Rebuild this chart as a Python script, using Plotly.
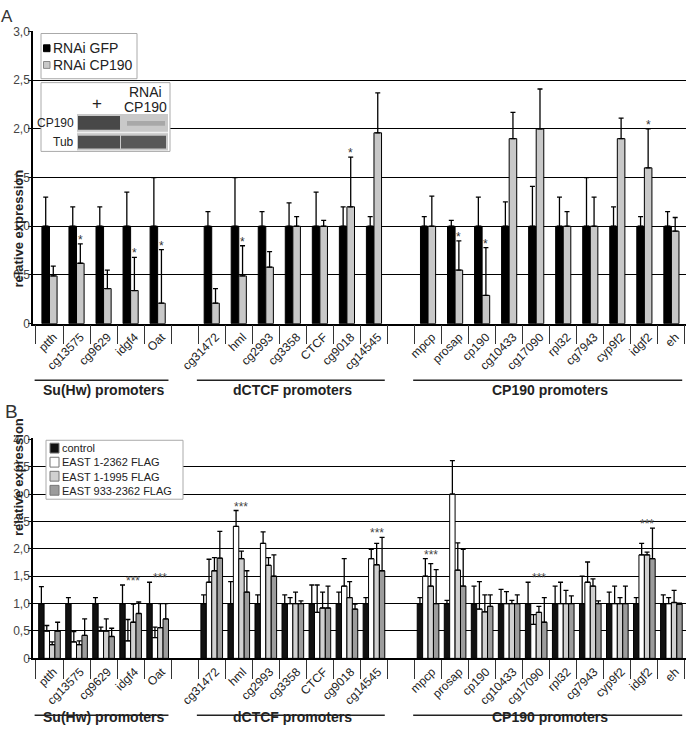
import plotly.graph_objects as go

W, H = 690, 743
FONT = "Arial, Liberation Sans, sans-serif"

# ---------------- data ----------------
group_names = ["Su(Hw) promoters", "dCTCF promoters", "CP190 promoters"]
group_sizes = [5, 7, 10]
genes = ["ptth", "cg13575", "cg9629", "idgf4", "Oat",
         "cg31472", "hml", "cg2993", "cg3358", "CTCF", "cg9018", "cg14545",
         "mpcp", "prosap", "cp190", "cg10433", "cg17090", "rpl32", "cg7943",
         "cyp9f2", "idgf2", "eh"]

# Panel A : RNAi
gfp_mean = [1.0] * 22
gfp_err = [0.30, 0.20, 0.20, 0.35, 0.50,
           0.15, 0.50, 0.15, 0.24, 0.35, 0.20, 0.10,
           0.10, 0.06, 0.30, 0.25, 0.41, 0.30, 0.50, 0.20, 0.10, 0.15]
cp190_mean = [0.49, 0.62, 0.36, 0.34, 0.21,
              0.21, 0.49, 0.58, 1.00, 1.00, 1.20, 1.96,
              1.00, 0.55, 0.29, 1.90, 2.00, 1.00, 1.00, 1.90, 1.60, 0.95]
cp190_err = [0.10, 0.20, 0.19, 0.34, 0.55,
             0.15, 0.31, 0.16, 0.10, 0.06, 0.51, 0.41,
             0.31, 0.30, 0.49, 0.27, 0.41, 0.15, 0.30, 0.21, 0.40, 0.14]
stars_A = ["cg13575", "idgf4", "Oat", "hml", "cg9018", "prosap", "cp190", "idgf2"]

# Panel B : EAST overexpression
control_mean = [1.0] * 22
control_err = [0.31, 0.11, 0.11, 0.34, 0.39,
               0.16, 0.40, 0.16, 0.16, 0.34, 0.21, 0.11,
               0.11, 0.06, 0.32, 0.26, 0.39, 0.32, 0.50, 0.21, 0.11, 0.16]
east_full_mean = [0.50, 0.30, 0.50, 0.32, 0.38,
                  1.39, 2.41, 2.10, 1.00, 0.84, 1.32, 1.82,
                  1.50, 3.00, 0.90, 1.00, 0.62, 1.00, 1.39, 1.00, 1.89, 1.00]
east_full_err = [0.10, 0.19, 0.07, 0.39, 0.19,
                 0.42, 0.29, 0.21, 0.11, 0.50, 0.50, 0.17,
                 0.32, 0.61, 0.50, 0.22, 0.18, 0.39, 0.37, 0.32, 0.21, 0.11]
east_1995_mean = [0.25, 0.25, 0.50, 0.66, 0.56,
                  1.60, 1.82, 1.70, 1.00, 0.92, 1.11, 1.71,
                  1.32, 1.61, 0.85, 1.00, 0.84, 1.00, 1.32, 1.00, 1.89, 1.02]
east_1995_err = [0.05, 0.07, 0.22, 0.33, 0.44,
                 0.24, 0.14, 0.14, 0.21, 0.29, 0.29, 0.39,
                 0.41, 0.50, 0.31, 0.06, 0.11, 0.24, 0.13, 0.11, 0.05, 0.22]
east_933_mean = [0.50, 0.42, 0.40, 0.82, 0.72,
                 1.83, 1.21, 1.50, 1.00, 0.92, 0.90, 1.60,
                 1.00, 1.32, 0.95, 1.00, 0.66, 1.00, 1.00, 1.00, 1.82, 0.99]
east_933_err = [0.16, 0.30, 0.15, 0.21, 0.28,
                0.49, 0.39, 0.39, 0.05, 0.40, 0.09, 0.61,
                0.62, 0.67, 0.21, 0.16, 0.45, 0.14, 0.05, 0.32, 0.56, 0.02]
stars_B = ["idgf4", "Oat", "hml", "cg14545", "mpcp", "cg17090", "idgf2"]

series_B = ["control", "EAST 1-2362 FLAG", "EAST 1-1995 FLAG", "EAST 933-2362 FLAG"]
colors_B = ["#111111", "#ffffff", "#d0d0d0", "#9c9c9c"]

ticks_A = [0, 0.5, 1.0, 1.5, 2.0, 2.5, 3.0]
ticks_B = [0, 0.5, 1.0, 1.5, 2.0, 2.5, 3.0, 3.5, 4.0]

# ---------------- layout helpers ----------------
def fx(p):
    return p / W

def fy(p):
    return 1 - p / H

def lab(v):
    return "0" if v == 0 else ("%.1f" % v).replace(".", ",")

# slot index of each gene (an empty slot between the groups)
slots, group_span = [], []
s = 0
for n in group_sizes:
    group_span.append((s, s + n - 1))
    for _ in range(n):
        slots.append(s)
        s += 1
    s += 1
n_slots = s - 1
bounds = [i - 0.5 for i in range(n_slots + 1)]
XR = [-0.61, n_slots - 0.46]
XDOM = [fx(33), fx(686)]

fig = go.Figure()

def add_bar(name, xs, ys, err, color, off, wid, xa, ya, lc="black"):
    fig.add_trace(go.Bar(
        name=name, x=xs, y=ys, offset=off, width=wid, xaxis=xa, yaxis=ya,
        showlegend=False,
        marker=dict(color=color, line=dict(color=lc, width=1)),
        error_y=dict(type="data", array=err, arrayminus=[0] * len(err),
                     symmetric=False, color="black", thickness=1.3, width=2.5)))

wa = 0.28
add_bar("RNAi GFP", slots, gfp_mean, gfp_err, "#000000", -wa, wa, "x", "y")
add_bar("RNAi CP190", slots, cp190_mean, cp190_err, "#c8c8c8", 0, wa, "x", "y")

wb = 0.2
means_B = [control_mean, east_full_mean, east_1995_mean, east_933_mean]
errs_B = [control_err, east_full_err, east_1995_err, east_933_err]
for k in range(4):
    add_bar(series_B[k], slots, means_B[k], errs_B[k], colors_B[k], (k - 2) * wb, wb, "x2", "y2")

def xaxis_cfg():
    return dict(domain=XDOM, range=XR, tickvals=[v + 0.15 for v in slots], ticktext=genes,
                tickangle=-45, ticks="", showgrid=False, zeroline=False,
                showline=True, linecolor="black", linewidth=1.5,
                tickfont=dict(size=12, color="#222", family=FONT),
                minor=dict(tickvals=bounds, ticks="outside", ticklen=19,
                           tickcolor="#333", tickwidth=1, showgrid=False))

def yaxis_cfg(dom, rng, tv):
    return dict(domain=dom, range=rng, tickvals=tv, ticktext=[lab(v) for v in tv],
                showgrid=True, gridcolor="#000", gridwidth=1.4, zeroline=False,
                showline=True, linecolor="black", linewidth=1.5,
                ticks="outside", ticklen=3, tickcolor="black", ticklabelstandoff=-4,
                tickfont=dict(size=12, color="#444", family=FONT))

fig.update_layout(
    width=W, height=H, margin=dict(l=0, r=0, t=0, b=0),
    paper_bgcolor="white", plot_bgcolor="white", barmode="overlay",
    font=dict(family=FONT, color="#222"),
    xaxis=dict(anchor="y", **xaxis_cfg()),
    yaxis=dict(anchor="x", **yaxis_cfg([fy(323.3), fy(25.0)], [0, 3.01], ticks_A)),
    xaxis2=dict(anchor="y2", **xaxis_cfg()),
    yaxis2=dict(anchor="x2", **yaxis_cfg([fy(664), fy(440.2)], [0, 4.015], ticks_B)),
)

shapes, ann = [], []

# significance stars
for g in stars_A:
    i = genes.index(g)
    ann.append(dict(x=slots[i] + wa / 2, y=cp190_mean[i] + cp190_err[i], xref="x", yref="y",
                    text="*", showarrow=False, yanchor="bottom", yshift=-5,
                    font=dict(size=12, color="#333")))
for g in stars_B:
    i = genes.index(g)
    top = max(m[i] + e[i] for m, e in zip(means_B, errs_B))
    ann.append(dict(x=slots[i] + 0.1, y=top, xref="x2", yref="y2",
                    text="***", showarrow=False, yanchor="bottom", yshift=-5,
                    font=dict(size=12, color="#444")))

# group brackets and labels
for (a, b), name in zip(group_span, group_names):
    for xr, ly, ty in [("x", 381, 391), ("x2", 722, 734)]:
        shapes.append(dict(type="line", xref=xr, yref="paper", x0=a - 0.55, x1=b + 0.4,
                           y0=fy(ly), y1=fy(ly), line=dict(color="#222", width=1.5)))
        ann.append(dict(x=(a + b) / 2, y=fy(ty), xref=xr, yref="paper", text="<b>%s</b>" % name,
                        showarrow=False, font=dict(size=14, color="#222")))

# axis titles and panel letters
for yc in (165, 542):
    ann.append(dict(x=fx(9), y=fy(yc), xref="paper", yref="paper", text="<b>relative expression</b>",
                    textangle=-90, showarrow=False, font=dict(size=13, color="#222")))
ann.append(dict(x=fx(0), y=fy(0), xref="paper", yref="paper", text="A", showarrow=False,
                xanchor="left", yanchor="top", borderpad=0, font=dict(size=17, color="#333")))
ann.append(dict(x=fx(3), y=fy(413), xref="paper", yref="paper", text="B", showarrow=False,
                xanchor="left", font=dict(size=19, color="#333")))

def rect(x0, y0, x1, y1, fill, line="#999", lw=1):
    shapes.append(dict(type="rect", xref="paper", yref="paper", x0=fx(x0), x1=fx(x1),
                       y0=fy(y1), y1=fy(y0), fillcolor=fill, line=dict(color=line, width=lw)))

def text(x, y, t, size, anchor="left", color="#222"):
    ann.append(dict(x=fx(x), y=fy(y), xref="paper", yref="paper", text=t, showarrow=False,
                    xanchor=anchor, yanchor="middle", align=anchor if anchor != "center" else "center",
                    font=dict(size=size, color=color)))

# legend A
rect(41, 28, 137, 74, "white", "#aaa")
rect(43.5, 39.5, 50, 46.5, "#000", "#000")
rect(43.5, 56.5, 50, 63.5, "#c8c8c8", "#888")
text(51, 43, "RNAi GFP", 14)
text(51, 60, "RNAi CP190", 14)

# western blot inset (panel A)
rect(41, 78, 170, 148, "white", "#aaa")
text(97, 99, "+", 17, "center")
text(145, 88, "RNAi", 14, "center")
text(145, 103, "CP190", 14, "center")
rect(77, 110, 168, 147, "#c9c9c9", "#c9c9c9", 0)
rect(77, 128, 168, 129.5, "#f0f0f0", "#f0f0f0", 0)
rect(78, 112, 120, 126, "#484848", "#484848", 0)
rect(127, 117, 165, 122, "#a8a8a8", "#a8a8a8", 0)
rect(78, 132, 120, 145, "#4e4e4e", "#4e4e4e", 0)
rect(121, 132, 166, 145, "#585858", "#585858", 0)
text(76, 119, "CP190", 12, "right")
text(76, 138, "Tub", 12, "right")

# legend B (one multi-line text block, line pitch 1.3 em)
fsB = 11
pitch = fsB * 1.3
y_first = 450
rect(46, 442, 183, 502, "white", "#aaa")
for k in range(4):
    yc = y_first + k * pitch
    rect(50, yc - 5, 59, yc + 5, colors_B[k], "#777")
text(59.5, y_first + 1.5 * pitch, "<br>".join(series_B), fsB)

fig.update_layout(shapes=shapes, annotations=ann)
fig.write_html("out.html", config={"displayModeBar": False},
               post_script="document.body.style.margin='0';")
